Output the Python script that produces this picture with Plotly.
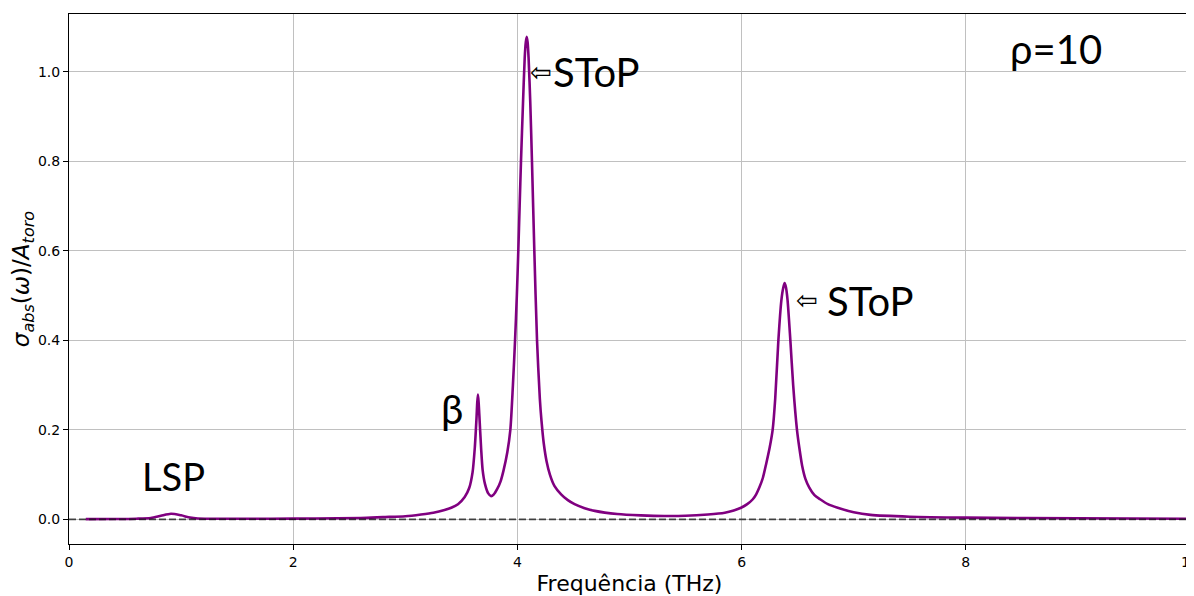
import plotly.graph_objects as go

# Frequency (THz) and normalized absorption cross-section
freq = [0.15, 0.4, 0.6, 0.73, 0.82, 0.91, 1.0, 1.08, 1.15, 1.4, 1.8, 2.2, 2.6, 2.8, 3.0,
        3.14, 3.25, 3.35, 3.41, 3.47, 3.53, 3.57, 3.60, 3.62, 3.635, 3.642, 3.648, 3.654,
        3.66, 3.676, 3.69, 3.71, 3.74, 3.765, 3.79, 3.82, 3.85, 3.877, 3.91, 3.937, 3.96,
        3.979, 3.995, 4.008, 4.02, 4.032, 4.05, 4.065, 4.075, 4.083, 4.091, 4.10, 4.115,
        4.13, 4.151, 4.175, 4.20, 4.215, 4.235, 4.26, 4.29, 4.33, 4.39, 4.45, 4.51, 4.60,
        4.69, 4.89, 5.1, 5.31, 5.5, 5.70, 5.85, 5.93, 5.995, 6.05, 6.10, 6.13, 6.158, 6.19,
        6.22, 6.25, 6.277, 6.30, 6.328, 6.355, 6.372, 6.384, 6.396, 6.41, 6.435, 6.46,
        6.494, 6.515, 6.54, 6.57, 6.604, 6.65, 6.70, 6.77, 6.857, 7.0, 7.15, 7.5, 8.0, 9.0,
        10.0]
sigma = [0.0005, 0.0008, 0.0015, 0.003, 0.008, 0.0125, 0.009, 0.004, 0.002, 0.0015, 0.0015,
         0.002, 0.003, 0.005, 0.007, 0.011, 0.015, 0.021, 0.026, 0.034, 0.050, 0.070, 0.105,
         0.160, 0.225, 0.262, 0.279, 0.262, 0.235, 0.160, 0.110, 0.080, 0.058, 0.052, 0.056,
         0.068, 0.085, 0.11, 0.150, 0.20, 0.30, 0.40, 0.50, 0.60, 0.70, 0.80, 0.93, 1.03,
         1.066, 1.078, 1.066, 1.03, 0.93, 0.80, 0.60, 0.40, 0.27, 0.22, 0.17, 0.13, 0.10,
         0.075, 0.056, 0.043, 0.034, 0.025, 0.019, 0.012, 0.009, 0.0075, 0.008, 0.011,
         0.015, 0.020, 0.026, 0.034, 0.045, 0.056, 0.071, 0.093, 0.125, 0.16, 0.20, 0.27,
         0.40, 0.49, 0.518, 0.528, 0.518, 0.49, 0.40, 0.30, 0.20, 0.16, 0.12, 0.09, 0.071,
         0.054, 0.045, 0.034, 0.026, 0.016, 0.010, 0.006, 0.004, 0.0025, 0.0015]

x_ticks = [0, 2, 4, 6, 8, 10]
y_ticks = [0.0, 0.2, 0.4, 0.6, 0.8, 1.0]

# Annotation labels: (text, x, y)
labels = [("ρ=10", 8.38, 1.051), ("SToP", 4.30, 1.0), ("SToP", 6.744, 0.4875),
          ("β", 3.30, 0.246), ("LSP", 0.63, 0.098)]
label_sizes = [40, 40, 40, 40, 38]
arrows = [(4.21, 0.999), (6.584, 0.49)]

fig = go.Figure()
fig.add_trace(go.Scatter(x=freq, y=sigma, mode="lines",
                         line=dict(color="#800080", width=2.6, shape="spline", smoothing=0.7),
                         showlegend=False))
fig.add_hline(y=0, line=dict(color="rgba(20,20,20,0.75)", width=1.6, dash="7px,3px"))

for (txt, x, y), sz in zip(labels, label_sizes):
    fig.add_annotation(x=x, y=y, text=txt, showarrow=False, xanchor="left", yanchor="middle",
                       font=dict(family="Lato", size=sz, color="black"))
for x, y in arrows:
    fig.add_annotation(x=x, y=y, text="⇦", showarrow=False, xanchor="center", yanchor="middle",
                       font=dict(family="DejaVu Sans", size=26, color="black"))

axis_common = dict(showline=True, linecolor="black", linewidth=1, mirror=True,
                   showgrid=True, gridcolor="#c0c0c0", gridwidth=1, zeroline=False,
                   ticks="outside", ticklen=5, tickcolor="black", automargin=False,
                   ticklabeloverflow="allow",
                   tickfont=dict(family="DejaVu Sans", size=14, color="black"))

fig.update_xaxes(range=[0, 10], tickvals=x_ticks, ticktext=[str(v) for v in x_ticks],
                 title=dict(text="Frequência (THz)", standoff=6,
                            font=dict(family="DejaVu Sans", size=22, color="black")),
                 **axis_common)
fig.update_yaxes(range=[-0.055, 1.129], tickvals=y_ticks,
                 ticktext=[f"{v:.1f}" for v in y_ticks],
                 title=dict(text="<i>σ<sub>abs</sub></i>(<i>ω</i>)/<i>A<sub>toro</sub></i>", standoff=6,
                            font=dict(family="DejaVu Sans", size=23, color="black")),
                 **axis_common)

fig.update_layout(width=1194, height=596, margin=dict(l=61, r=12, t=6, b=60),
                  plot_bgcolor="white", paper_bgcolor="white")

fig.write_html("out.html")
